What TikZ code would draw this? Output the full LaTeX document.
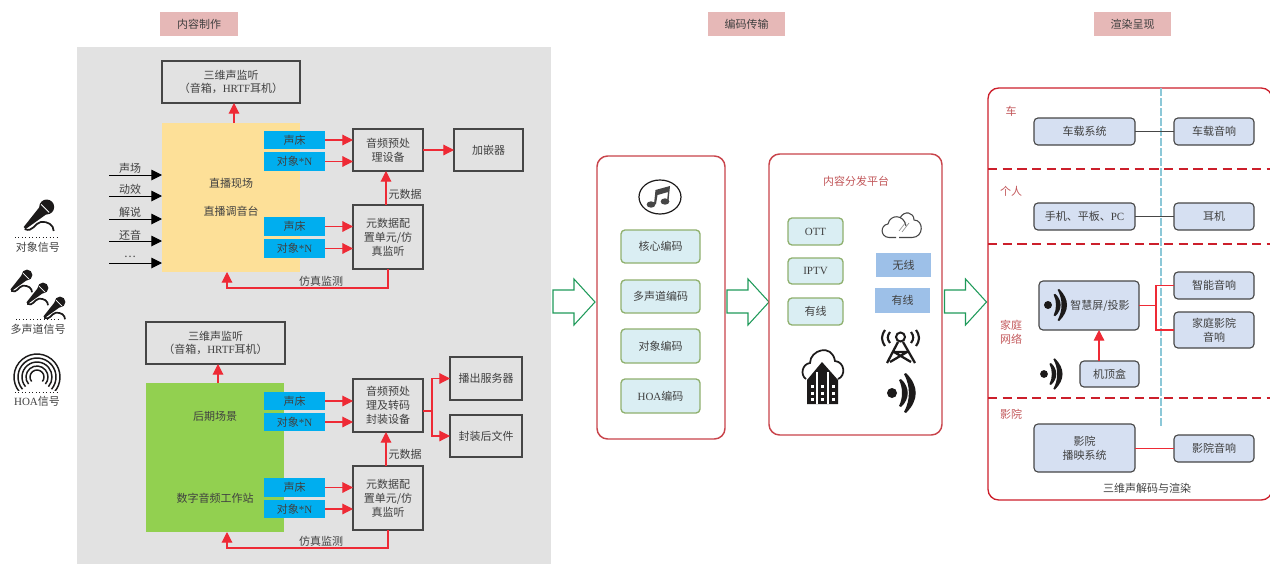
\documentclass[tikz,border=0pt]{standalone}
\usepackage{fontspec}
\setmainfont{Noto Sans CJK SC}
\newfontfamily\lat{Liberation Serif}
\usetikzlibrary{arrows.meta}
\definecolor{txt}{HTML}{404040}
\definecolor{bdr}{HTML}{464646}
\definecolor{graybg}{HTML}{E2E2E2}
\definecolor{pinkl}{HTML}{E6B8B7}
\definecolor{yell}{HTML}{FDE098}
\definecolor{grn}{HTML}{92D050}
\definecolor{cyn}{HTML}{00AEEF}
\definecolor{panelred}{HTML}{C8434A}
\definecolor{tealfill}{HTML}{DAEEF3}
\definecolor{oliveb}{HTML}{8FB06E}
\definecolor{bluefill}{HTML}{9DC0E8}
\definecolor{devfill}{HTML}{D6E0F2}
\definecolor{arrowgrn}{HTML}{1F9A5A}
\definecolor{rightred}{HTML}{CC1F2B}
\definecolor{labred}{HTML}{C2575A}
\definecolor{dashcy}{HTML}{8CC8D8}
\definecolor{iconb}{HTML}{1C1A1A}
\definecolor{linered}{HTML}{EE2A35}
\tikzset{
  x=0.75pt,y=-0.75pt,
  every node/.style={font=\fontsize{8.25}{10.4}\selectfont,text=txt,inner sep=0pt,outer sep=0pt,align=center},
  pinkbox/.style={fill=pinkl},
  procbox/.style={draw=bdr,line width=0.85pt},
  yellbox/.style={fill=yell},
  grnbox/.style={fill=grn},
  cynbox/.style={fill=cyn},
  panel/.style={draw=panelred,line width=1.1pt,rounded corners=8pt,fill=white},
  tealbox/.style={draw=oliveb,fill=tealfill,line width=1pt,rounded corners=3pt},
  bluebox/.style={fill=bluefill},
  devbox/.style={draw=bdr,fill=devfill,line width=0.85pt,rounded corners=3pt},
  rarrow/.style={draw=linered,line width=0.85pt,-{Triangle[length=8pt,width=8pt]}},
  rline/.style={draw=linered,line width=0.85pt},
  blarrow/.style={draw=black,line width=0.75pt,-{Triangle[length=8pt,width=8pt]}},
  grnarrow/.style={draw=arrowgrn,line width=0.8pt,fill=white},
  sepdash/.style={draw=rightred,line width=0.9pt,dash pattern=on 7pt off 4pt},
  redlab/.style={text=labred},
}
\newcommand\rectnode[7]{\node[#1,minimum width={(#5-#3)*0.75pt},minimum height={(#6-#4)*0.75pt}] (#2) at ({(#3+#5)/2},{(#4+#6)/2}) {#7};}
\newcommand\wifiicon[3]{\begin{scope}[shift={(#1,#2)},scale=#3]
  \fill[iconb] (0,0) circle (5);
  \fill[iconb] (7,-13) -- (9,-14) .. controls (18,-6) and (18,6) .. (9,14) -- (7,13) .. controls (11,5) and (11,-5) .. cycle;
  \fill[iconb] (12,-19) -- (14,-20) .. controls (27,-7) and (27,7) .. (14,20) -- (12,19) .. controls (18.5,7) and (18.5,-7) .. cycle;
\end{scope}}
\newcommand\micicon[3]{\begin{scope}[shift={(#1,#2)},scale=#3]
  \fill[iconb] (0,0) circle (7.5);
  \fill[iconb] (-0.1,7.1) -- (-7.1,-0.1) -- (-23,20) -- (-21,22) -- cycle;
  \draw[white,line width=0.6pt] (-5.5,-2.5) -- (2.5,5.5);
  \draw[iconb,line width=1.3pt] (-22,22) .. controls (-14,26) and (-12,16) .. (-6,15) .. controls (1,14) and (7,18) .. (7,24);
\end{scope}}
\newcommand\greenblock[1]{\draw[grnarrow] (#1,290) -- (#1+21,290) -- (#1+21,279) -- (#1+42,302) -- (#1+21,325) -- (#1+21,313) -- (#1,313) -- cycle;}
\begin{document}
\begin{tikzpicture}
\useasboundingbox (0,0) rectangle (1270,564);
\clip (0,0) rectangle (1270,564);
% stage labels
\rectnode{pinkbox}{st1}{160}{12}{238}{36}{内容制作}
\rectnode{pinkbox}{st2}{708}{12}{785}{36}{编码传输}
\rectnode{pinkbox}{st3}{1094}{12}{1171}{36}{渲染呈现}
% production background
\fill[graybg] (77,47) rectangle (551,564);
% ---- upper chain
\rectnode{procbox}{mon1}{162}{61}{300}{103}{三维声监听\\（音箱，{\lat HRTF}耳机）}
\rectnode{yellbox}{live}{162}{123}{300}{272}{}
\node (liveA) at (231,183) {直播现场};
\node (liveB) at (231,211) {直播调音台};
\rectnode{cynbox}{a1}{264}{131}{325}{149}{声床}
\rectnode{cynbox}{a2}{264}{152}{325}{171}{对象{\lat *N}}
\rectnode{cynbox}{a3}{264}{217}{325}{236}{声床}
\rectnode{cynbox}{a4}{264}{239}{325}{258}{对象{\lat *N}}
\rectnode{procbox}{pre1}{353}{129}{423}{171}{音频预处\\理设备}
\rectnode{procbox}{emb}{454}{129}{523}{171}{加嵌器}
\rectnode{procbox}{meta1}{353}{205}{423}{269}{元数据配\\置单元/仿\\真监听}
\draw[rarrow] ([xshift=2.25pt]live.north) -- ([xshift=2.25pt]live.north |- mon1.south);
\draw[rarrow] (a1.east) -- (pre1.west |- a1.east);
\draw[rarrow] (a2.east) -- (pre1.west |- a2.east);
\draw[rarrow] (a3.east) -- (meta1.west |- a3.east);
\draw[rarrow] (a4.east) -- (meta1.west |- a4.east);
\draw[rarrow] (pre1.east) -- (emb.west);
\draw[rarrow] ([xshift=-1.5pt]meta1.north) -- ([xshift=-1.5pt]pre1.south);
\node (ml1) at (405,194) {元数据};
\coordinate (fb1) at (227,272);
\draw[rarrow] (meta1.south) -- (388,288) -- (227,288) -- (fb1);
\node (fl1) at (321,281) {仿真监测};
\foreach \n/\yy/\ly/\t in {1/175/168/声场,2/196/189/动效,3/219/212/解说,4/241/235/还音,5/263/257/…}{
  \coordinate (in\n) at (109,\yy);
  \draw[blarrow] (in\n) -- (in\n -| live.west);
  \node (inl\n) at (130,\ly) {\t};
}
% ---- lower chain
\rectnode{procbox}{mon2}{146}{322}{285}{364}{三维声监听\\（音箱，{\lat HRTF}耳机）}
\rectnode{grnbox}{post}{146}{383}{284}{532}{}
\node (postA) at (215,416) {后期场景};
\node (postB) at (215,498) {数字音频工作站};
\rectnode{cynbox}{b1}{264}{392}{325}{410}{声床}
\rectnode{cynbox}{b2}{264}{413}{325}{431}{对象{\lat *N}}
\rectnode{cynbox}{b3}{264}{478}{325}{497}{声床}
\rectnode{cynbox}{b4}{264}{500}{325}{518}{对象{\lat *N}}
\rectnode{procbox}{pre2}{353}{379}{423}{432}{音频预处\\理及转码\\封装设备}
\rectnode{procbox}{srv}{450}{357}{522}{400}{播出服务器}
\rectnode{procbox}{file}{450}{415}{522}{457}{封装后文件}
\rectnode{procbox}{meta2}{353}{466}{423}{530}{元数据配\\置单元/仿\\真监听}
\draw[rarrow] ([xshift=2.25pt]post.north) -- ([xshift=2.25pt]post.north |- mon2.south);
\draw[rarrow] (b1.east) -- (pre2.west |- b1.east);
\draw[rarrow] (b2.east) -- (pre2.west |- b2.east);
\draw[rarrow] (b3.east) -- (meta2.west |- b3.east);
\draw[rarrow] (b4.east) -- (meta2.west |- b4.east);
\coordinate (sp) at (432,411);
\draw[rline] (pre2.east |- sp) -- (sp);
\draw[rarrow] (sp) |- (srv.west);
\draw[rarrow] (sp) |- (file.west);
\draw[rarrow] ([xshift=-1.5pt]meta2.north) -- ([xshift=-1.5pt]pre2.south);
\node (ml2) at (405,454) {元数据};
\coordinate (fb2) at (227,532);
\draw[rarrow] (meta2.south) -- (388,548) -- (227,548) -- (fb2);
\node (fl2) at (321,541) {仿真监测};
% ---- signal icons
\micicon{46.7}{207}{1}
\draw[iconb,line width=0.6pt,dotted] (15,237) -- (60,237);
\node (sig1) at (38,247) {对象信号};
\micicon{27}{275}{0.72}
\micicon{43}{288}{0.72}
\micicon{60}{302}{0.72}
\draw[iconb,line width=0.6pt,dotted] (16,319) -- (61,319);
\node (sig2) at (38,329) {多声道信号};
\begin{scope}
\clip (10,345) rectangle (65,390);
\foreach \r in {7,11,15,19,23}{
  \draw[iconb,line width=1.1pt] (37,377) ++(140:\r) arc[start angle=140,end angle=400,radius=\r];
}
\end{scope}
\draw[iconb,line width=0.6pt,dotted] (15,392) -- (60,392);
\node (sig3) at (37,401) {{\lat HOA}信号};
% ---- green block arrows
\greenblock{553}
\greenblock{727}
\greenblock{944.5}
% ---- encoding panel
\rectnode{panel}{enc}{597}{156}{725}{439}{}
\draw[iconb,line width=0.9pt,fill=white] (660,197) ellipse (21 and 17);
\fill[bdr] (651,204.5) ellipse (4.4 and 3.2);
\fill[bdr] (665,201.5) ellipse (4.4 and 3.2);
\fill[bdr] (654,204) -- (655.5,190) -- (670,186) -- (668.5,201) -- (667,201) -- (668,192) -- (657.5,195) -- (656,204) -- cycle;
\rectnode{tealbox}{e1}{621}{230}{700}{263}{核心编码}
\rectnode{tealbox}{e2}{621}{280}{700}{313}{多声道编码}
\rectnode{tealbox}{e3}{621}{329}{700}{363}{对象编码}
\rectnode{tealbox}{e4}{621}{379}{700}{413}{{\lat HOA}编码}
% ---- platform panel
\rectnode{panel}{plat}{769}{154}{942}{435}{}
\node[redlab] (pt) at (856,181) {内容分发平台};
\rectnode{tealbox}{d1}{788}{218}{843}{245}{\lat OTT}
\rectnode{tealbox}{d2}{788}{258}{843}{284}{\lat IPTV}
\rectnode{tealbox}{d3}{788}{298}{843}{325}{有线}
\rectnode{bluebox}{w1}{876}{253}{931}{277}{无线}
\rectnode{bluebox}{w2}{875}{288}{930}{313}{有线}
% small cloud
\draw[bdr,line width=0.8pt] (896,237.5) -- (889,237.5) .. controls (880,237) and (880,225) .. (888,224) .. controls (890,214) and (904,214) .. (906,226);
\draw[bdr,line width=0.8pt] (900,218) .. controls (904,210) and (914,212) .. (914,220) .. controls (924,220) and (924,237.5) .. (912,237.5) -- (899,237.5);
\draw[bdr!60,line width=0.5pt] (899,231) -- (906,222) (902,232) -- (909,223);
% cloud + servers
\draw[iconb,line width=1.3pt] (806,379) .. controls (800,375) and (802,364) .. (810,363) .. controls (810,350) and (832,343) .. (835,361) .. controls (845,362) and (846,376) .. (838,379);
\fill[iconb] (807,380) -- (822,362) -- (838,380) -- (838,404) -- (807,404) -- cycle;
\draw[white,line width=0.8pt] (817,372) -- (817,404) (828,372) -- (828,404);
\foreach \xx in {812,822.5,833}{\foreach \yy in {386,393,399}{\fill[white] (\xx-1.5,\yy-1.5) rectangle (\xx+1.5,\yy+1.5);}}
% tower
\draw[iconb,line width=1.5pt] (900.5,337) circle (4.5);
\draw[iconb,line width=1.7pt] (898,342) -- (887,363) (903,342) -- (915,363) (893.5,352) -- (908.5,352) (890,362) -- (907,352) (911,362) -- (894,352);
\draw[iconb,line width=1.6pt] (890,332) .. controls (887,336) and (887,339) .. (890,343) (885,330) .. controls (881,336) and (881,340) .. (885,346);
\draw[iconb,line width=1.6pt] (911,332) .. controls (914,336) and (914,339) .. (911,343) (916,330) .. controls (920,336) and (920,340) .. (916,346);
\wifiicon{892}{393}{1}
% ---- rendering panel
\draw[rightred,line width=1pt,rounded corners=8pt] (988,88) rectangle (1272,500);
\coordinate (dl1) at (988,169);\coordinate (dr1) at (1270,169);
\coordinate (dl2) at (988,244);\coordinate (dr2) at (1270,244);
\coordinate (dl3) at (988,398);\coordinate (dr3) at (1270,398);
\draw[sepdash] (dl1) -- (dr1);
\draw[sepdash] (dl2) -- (dr2);
\draw[sepdash] (dl3) -- (dr3);
\coordinate (ct) at (1161,88);\coordinate (cb) at (1161,427);
\draw[dashcy,line width=1.1pt,dash pattern=on 6pt off 1.5pt] (ct) -- (cb);
\node[redlab] (r1) at (1011,111) {车};
\node[redlab] (r2) at (1011,191) {个人};
\node[redlab] (r3) at (1011,332) {家庭\\网络};
\node[redlab] (r4) at (1011,414) {影院};
\rectnode{devbox}{car}{1034}{118}{1135}{145}{车载系统}
\rectnode{devbox}{cars}{1174}{118}{1254}{145}{车载音响}
\rectnode{devbox}{ph}{1034}{203}{1135}{230}{手机、平板、{\lat PC}}
\rectnode{devbox}{ear}{1174}{203}{1254}{230}{耳机}
\rectnode{devbox}{scr}{1039}{281}{1139}{330}{\hspace*{16.5pt}智慧屏/投影}
\rectnode{devbox}{sma}{1174}{272}{1254}{299}{智能音响}
\rectnode{devbox}{hom}{1174}{312}{1254}{348}{家庭影院\\音响}
\rectnode{devbox}{stb}{1080}{361}{1139}{387}{机顶盒}
\rectnode{devbox}{cin}{1034}{424}{1135}{472}{影院\\播映系统}
\rectnode{devbox}{cins}{1174}{435}{1254}{462}{影院音响}
\draw[bdr,line width=1pt] (car.east) -- (cars.west);
\draw[bdr,line width=1pt] (ph.east) -- (ear.west);
\draw[rline] (cin.east |- cins.west) -- (cins.west);
\coordinate (sj) at (1156,305.5);
\draw[rline] (scr.east) -- (sj);
\draw[rline] (sma.west) -| (sj);
\draw[rline] (hom.west) -| (sj);
\draw[rarrow] (stb.north -| 1099,0) -- (scr.south -| 1099,0);
\wifiicon{1048}{305}{0.8}
\wifiicon{1044}{374}{0.78}
\node (rc) at (1147,488) {三维声解码与渲染};
\end{tikzpicture}
\end{document}
